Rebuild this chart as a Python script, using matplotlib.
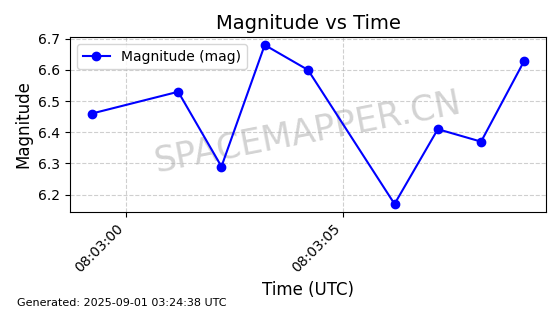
import matplotlib
matplotlib.use('Agg')
import matplotlib.pyplot as plt
import matplotlib.dates as mdates
import numpy as np
from datetime import datetime

times = ['2025-09-01 08:02:59.2', '2025-09-01 08:03:01.2', '2025-09-01 08:03:02.2',
         '2025-09-01 08:03:03.2', '2025-09-01 08:03:04.2', '2025-09-01 08:03:06.2',
         '2025-09-01 08:03:07.2', '2025-09-01 08:03:08.2', '2025-09-01 08:03:09.2']
magnitudes = [6.46, 6.53, 6.29, 6.68, 6.60, 6.17, 6.41, 6.37, 6.63]

t = [datetime.strptime(s, '%Y-%m-%d %H:%M:%S.%f') for s in times]

fig, ax = plt.subplots(figsize=(5.6, 3.14), dpi=100)
ax.plot(t, magnitudes, marker='o', color='blue', label='Magnitude (mag)', zorder=3)
ax.set_title('Magnitude vs Time', fontsize=14)
ax.set_xlabel('Time (UTC)', fontsize=12)
ax.set_ylabel('Magnitude', fontsize=12)
ax.grid(True, linestyle='--', alpha=0.6)
ax.legend(loc='upper left')
ax.set_yticks([6.2, 6.3, 6.4, 6.5, 6.6, 6.7])
ax.xaxis.set_major_locator(mdates.SecondLocator(bysecond=[0, 5, 10, 15, 20, 25, 30, 35, 40, 45, 50, 55]))
ax.xaxis.set_major_formatter(mdates.DateFormatter('%H:%M:%S'))
plt.setp(ax.get_xticklabels(), rotation=45, ha='right')

# Watermark
ax.text(0.5, 0.46, 'SPACEMAPPER.CN', transform=ax.transAxes, fontsize=25,
        color='gray', alpha=0.35, rotation=11, ha='center', va='center', zorder=1)

fig.text(0.03, 0.025, 'Generated: 2025-09-01 03:24:38 UTC', fontsize=8)

fig.subplots_adjust(left=0.125, right=0.975, top=0.882, bottom=0.325)
fig.savefig('out.png')
